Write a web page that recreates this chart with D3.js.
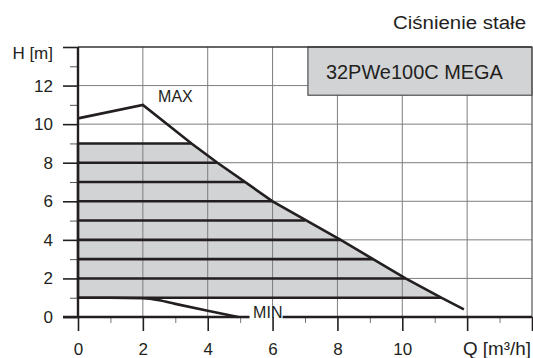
<!DOCTYPE html>
<html>
<head>
<meta charset="utf-8">
<script src="https://cdn.jsdelivr.net/npm/d3@7"></script>
<style>
  body { margin: 0; background: #fff; }
  svg text { font-family: "Liberation Sans", Arial, sans-serif; fill: #231f20; }
</style>
</head>
<body>
<svg id="chart" width="533" height="358"></svg>
<script>
// MAX curve (Q in m3/h, H in m)
const maxQ = [0, 2, 3.5, 4.3, 6, 8.1, 10.1, 11.2, 11.9];
const maxH = [10.3, 11, 9, 8, 6, 4, 2, 1, 0.4];

// MIN curve
const minQ = [0, 1, 2, 2.5, 3, 4, 4.95];
const minH = [1, 1, 0.97, 0.87, 0.68, 0.32, 0];

// constant pressure levels and the Q where each one meets the MAX curve
const levels = [1, 2, 3, 4, 5, 6, 7, 8, 9];
const levelEnds = [11.2, 10.1, 9.1, 8.1, 7.0, 6.0, 5.15, 4.3, 3.5];

const qMajor = [0, 2, 4, 6, 8, 10, 12, 14];
const qMinor = [1, 3, 5, 7, 9, 11, 13];
const qLabels = ["0", "2", "4", "6", "8", "10"];
const hMajor = [0, 2, 4, 6, 8, 10, 12, 14];
const hMinor = [1, 3, 5, 7, 9, 11, 13];
const hLabels = ["0", "2", "4", "6", "8", "10", "12"];
const gridQ = [2, 4, 6, 8, 10, 12];
const gridH = [2, 4, 6, 8, 10, 12];

const title = "Ciśnienie stałe";
const model = "32PWe100C MEGA";

const svg = d3.select("#chart");

let x = d3.scaleLinear().domain([0, 14]).range([78, 532]);
let y = d3.scaleLinear().domain([0, 14]).range([317, 47]);

drawArea();
drawGrid();
drawBox();
drawAxes();
drawCurves();
drawTexts();

function drawArea() {
  // shaded working range: top level, MAX curve down to level 1
  let top = levels[levels.length - 1];
  let bottom = levels[0];
  let pts = [[0, bottom], [0, top], [levelEnds[levelEnds.length - 1], top]];
  maxQ.forEach((q, i) => {
    if (maxH[i] < top && maxH[i] >= bottom) pts.push([q, maxH[i]]);
  });
  pts.push([levelEnds[0], bottom]);

  svg.append("path")
    .datum(pts)
    .attr("d", d3.line().x(d => x(d[0])).y(d => y(d[1])))
    .attr("fill", "#d2d3d5")
    .attr("stroke", "none");
}

function drawGrid() {
  svg.selectAll(".gridV")
    .data(gridQ)
    .join("line")
      .attr("class", "gridV")
      .attr("x1", d => x(d)).attr("x2", d => x(d))
      .attr("y1", y(0)).attr("y2", y(14))
      .attr("stroke", "#7d7d7d")
      .attr("stroke-width", 1);

  svg.selectAll(".gridH")
    .data(gridH)
    .join("line")
      .attr("class", "gridH")
      .attr("x1", x(0)).attr("x2", x(14))
      .attr("y1", d => y(d)).attr("y2", d => y(d))
      .attr("stroke", "#7d7d7d")
      .attr("stroke-width", 1);
}

function drawBox() {
  svg.append("rect")
    .attr("x", x(7.09))
    .attr("y", y(14))
    .attr("width", x(14) - x(7.09))
    .attr("height", y(11.5) - y(14))
    .attr("fill", "#d2d3d5")
    .attr("stroke", "#4d4d4d")
    .attr("stroke-width", 1.2);

  svg.append("text")
    .text(model)
    .attr("x", x(7.09) + 18)
    .attr("y", y(14) + 32)
    .attr("font-size", "20px")
    .attr("textLength", 177)
    .attr("lengthAdjust", "spacingAndGlyphs");
}

function styleAxis(g) {
  g.select(".domain").remove();
  g.attr("font-family", null).attr("font-size", null);
  g.selectAll("line").attr("stroke", "#231f20").attr("stroke-width", 1.6);
  g.selectAll("text").attr("font-size", "17px").attr("fill", "#231f20");
}

function drawAxes() {
  // border: top and right
  svg.append("line")
    .attr("x1", x(0)).attr("x2", x(14))
    .attr("y1", y(14)).attr("y2", y(14))
    .attr("stroke", "#333").attr("stroke-width", 1.6);
  svg.append("line")
    .attr("x1", x(14)).attr("x2", x(14))
    .attr("y1", y(0)).attr("y2", y(14))
    .attr("stroke", "#555").attr("stroke-width", 1.2);

  // y axis
  svg.append("g")
    .attr("transform", "translate(" + x(0) + ",0)")
    .call(d3.axisLeft(y).tickValues(hMajor).tickSize(15).tickPadding(10)
      .tickFormat((d, i) => hLabels[i] || ""))
    .call(styleAxis);
  svg.append("g")
    .attr("transform", "translate(" + x(0) + ",0)")
    .call(d3.axisLeft(y).tickValues(hMinor).tickSize(8).tickFormat(""))
    .call(styleAxis)
    .selectAll("line").attr("stroke-width", 1).attr("stroke", "#555");

  // x axis
  svg.append("g")
    .attr("transform", "translate(0," + y(0) + ")")
    .call(d3.axisBottom(x).tickValues(qMajor).tickSize(14).tickPadding(12)
      .tickFormat((d, i) => qLabels[i] || ""))
    .call(styleAxis);
  svg.append("g")
    .attr("transform", "translate(0," + y(0) + ")")
    .call(d3.axisBottom(x).tickValues(qMinor).tickSize(6).tickFormat(""))
    .call(styleAxis)
    .selectAll("line").attr("stroke-width", 1).attr("stroke", "#777");

  // axis lines, bottom one broken by the MIN label
  svg.append("line")
    .attr("x1", x(0)).attr("x2", x(0))
    .attr("y1", y(0)).attr("y2", y(14))
    .attr("stroke", "#231f20").attr("stroke-width", 2.4);
  let bottomParts = [[x(0) - 15, x(5.29)], [x(6.31), x(14)]];
  svg.selectAll(".xline")
    .data(bottomParts)
    .join("line")
      .attr("class", "xline")
      .attr("x1", d => d[0]).attr("x2", d => d[1])
      .attr("y1", y(0)).attr("y2", y(0))
      .attr("stroke", "#231f20").attr("stroke-width", 2.4);
}

function drawCurves() {
  svg.selectAll(".level")
    .data(levels)
    .join("line")
      .attr("class", "level")
      .attr("x1", x(0))
      .attr("x2", (d, i) => x(levelEnds[i]))
      .attr("y1", d => y(d)).attr("y2", d => y(d))
      .attr("stroke", "#231f20")
      .attr("stroke-width", 2.6);

  svg.append("path")
    .datum(maxQ.map((q, i) => [q, maxH[i]]))
    .attr("d", d3.line().x(d => x(d[0])).y(d => y(d[1])))
    .attr("fill", "none")
    .attr("stroke", "#231f20")
    .attr("stroke-width", 2.6);

  svg.append("path")
    .datum(minQ.map((q, i) => [q, minH[i]]))
    .attr("d", d3.line().x(d => x(d[0])).y(d => y(d[1])).curve(d3.curveMonotoneX))
    .attr("fill", "none")
    .attr("stroke", "#231f20")
    .attr("stroke-width", 2.6);

  // y axis drawn over the shading
  svg.append("line")
    .attr("x1", x(0)).attr("x2", x(0))
    .attr("y1", y(1)).attr("y2", y(9))
    .attr("stroke", "#231f20").attr("stroke-width", 2.4);
}

function drawTexts() {
  svg.append("text").text(title)
    .attr("x", 393).attr("y", 29)
    .attr("font-size", "18px")
    .attr("textLength", 133)
    .attr("lengthAdjust", "spacingAndGlyphs");

  svg.append("text").text("H [m]")
    .attr("x", 53).attr("y", y(14) + 12)
    .attr("text-anchor", "end")
    .attr("font-size", "17px");

  svg.append("text").text("Q [m³/h]")
    .attr("x", 463).attr("y", y(0) + 38)
    .attr("font-size", "18px")
    .attr("textLength", 68)
    .attr("lengthAdjust", "spacingAndGlyphs");

  svg.append("text").text("MAX")
    .attr("x", x(2.47)).attr("y", y(11.15))
    .attr("font-size", "16px");

  svg.append("text").text("MIN")
    .attr("x", x(5.4)).attr("y", y(0) + 0.5)
    .attr("font-size", "16px");
}
</script>
</body>
</html>
